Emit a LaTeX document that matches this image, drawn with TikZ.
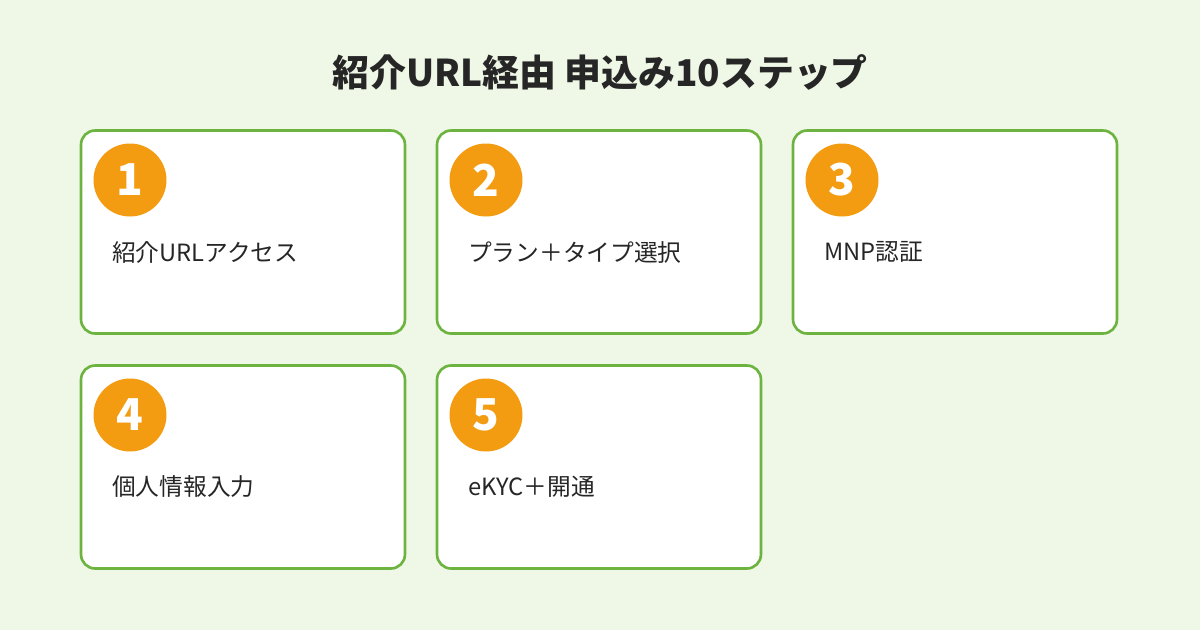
\documentclass[tikz,border=0pt]{standalone}
\usepackage{fontspec}
\setmainfont{Noto Sans CJK JP}
\definecolor{bggreen}{HTML}{EFF8E6}
\definecolor{boxgreen}{HTML}{6DB33F}
\definecolor{stepor}{HTML}{F39C12}
\tikzset{
  stepbox/.style={draw=boxgreen, line width=1.5pt, fill=white, rounded corners=8pt, minimum width=6.48cm, minimum height=4.06cm},
  stepnum/.style={shape=circle, fill=stepor, text=white, minimum size=1.46cm, inner sep=0pt, font=\fontsize{25}{25}\selectfont\bfseries},
  steptext/.style={anchor=west, font=\fontsize{13.5}{16}\selectfont, text=black!85}
}
\begin{document}
\begin{tikzpicture}[x=0.02cm,y=-0.02cm]
\path[fill=bggreen] (0,0) rectangle (1200,630);
\useasboundingbox (0,0) rectangle (1200,630);

\path (600,72) node (title) [font=\fontsize{21}{24}\selectfont\bfseries, text=black!85] {紹介URL経由 申込み10ステップ};

\path (243,232) node (B1) [stepbox] {};
\path (599,232) node (B2) [stepbox] {};
\path (955,232) node (B3) [stepbox] {};
\path (243,467) node (B4) [stepbox] {};
\path (599,467) node (B5) [stepbox] {};

\path (130,180) node (N1) [stepnum] {1};
\path (486,180) node (N2) [stepnum] {2};
\path (842,180) node (N3) [stepnum] {3};
\path (130,415) node (N4) [stepnum] {4};
\path (486,415) node (N5) [stepnum] {5};

\path (106,252) node (T1) [steptext] {紹介URLアクセス};
\path (462,252) node (T2) [steptext] {プラン＋タイプ選択};
\path (818,252) node (T3) [steptext] {MNP認証};
\path (106,487) node (T4) [steptext] {個人情報入力};
\path (462,487) node (T5) [steptext] {eKYC＋開通};

\end{tikzpicture}
\end{document}
